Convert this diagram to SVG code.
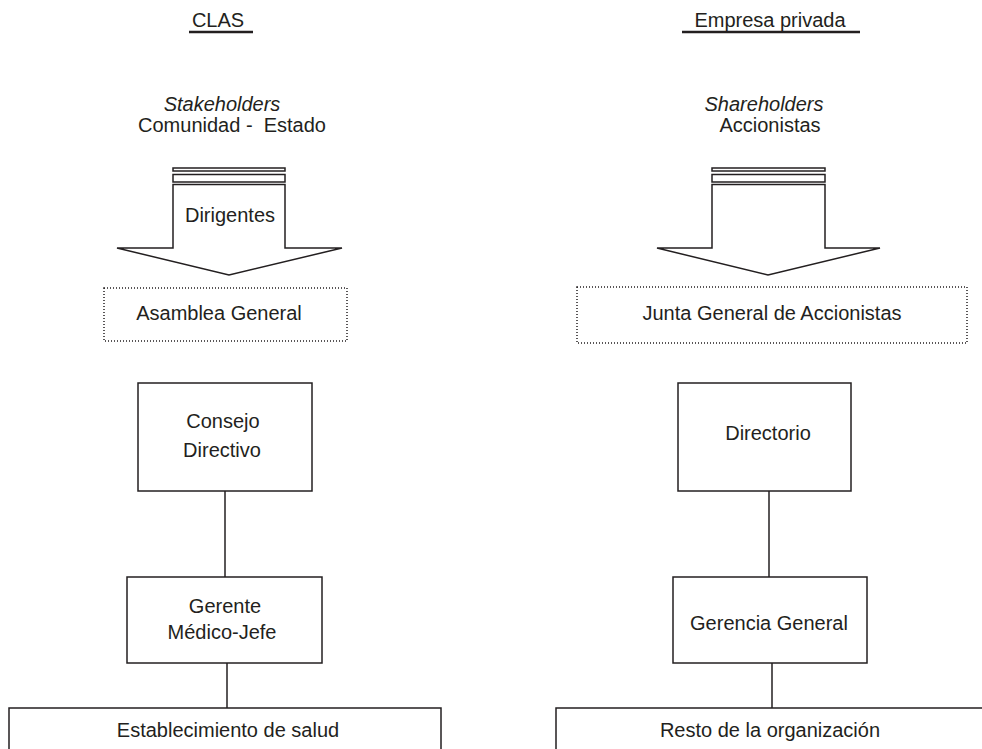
<svg xmlns="http://www.w3.org/2000/svg" width="982" height="749" viewBox="0 0 982 749">
<style>
text{font-family:"Liberation Sans",Arial,sans-serif;font-size:20px;fill:#231f20;text-anchor:middle}
.it{font-style:italic}
.box{fill:none;stroke:#231f20;stroke-width:1.5}
.dot{fill:none;stroke:#231f20;stroke-width:1.5;stroke-dasharray:1 2}
.ul{stroke:#231f20;stroke-width:2.5}
.conn{stroke:#231f20;stroke-width:1.5;fill:none}
</style>
<rect width="982" height="749" fill="#fff"/>
<g id="header-clas">
<text x="218" y="27">CLAS</text>
<line class="ul" x1="189" y1="32" x2="253" y2="32"/>
</g>
<g id="header-empresa">
<text x="770" y="27">Empresa privada</text>
<line class="ul" x1="682" y1="32" x2="860" y2="32"/>
</g>
<g id="stakeholders">
<text class="it" x="222" y="111">Stakeholders</text>
<text x="232" y="132" xml:space="preserve">Comunidad -  Estado</text>
</g>
<g id="shareholders">
<text class="it" x="764" y="111">Shareholders</text>
<text x="770" y="132">Accionistas</text>
</g>
<g id="arrow-dirigentes">
<rect class="box" x="173" y="168" width="112" height="3"/>
<rect class="box" x="173" y="174.5" width="112" height="7.5"/>
<polygon class="box" points="173,184.5 173,248 117,248 229,275 342,248 285,248 285,184.5"/>
<text x="230" y="222">Dirigentes</text>
</g>
<g id="arrow-accionistas">
<rect class="box" x="712" y="168" width="113" height="3"/>
<rect class="box" x="712" y="174.5" width="113" height="7.5"/>
<polygon class="box" points="712,184.5 712,248 657,248 768,275 880,248 825,248 825,184.5"/>
</g>
<g id="asamblea">
<rect class="dot" x="104" y="288" width="243" height="53"/>
<text x="219" y="320">Asamblea General</text>
</g>
<g id="junta">
<rect class="dot" x="577" y="287" width="390" height="56"/>
<text x="772" y="320">Junta General de Accionistas</text>
</g>
<g id="consejo">
<rect class="box" x="138" y="383" width="174" height="108"/>
<text x="223" y="428">Consejo</text>
<text x="222" y="457">Directivo</text>
</g>
<g id="directorio">
<rect class="box" x="678" y="383" width="173" height="108"/>
<text x="768" y="440">Directorio</text>
</g>
<g id="gerente">
<rect class="box" x="127" y="577" width="195" height="86"/>
<text x="225" y="613">Gerente</text>
<text x="222" y="639">Médico-Jefe</text>
</g>
<g id="gerencia">
<rect class="box" x="673" y="577" width="194" height="86"/>
<text x="769" y="630">Gerencia General</text>
</g>
<g id="establecimiento">
<rect class="box" x="9" y="708" width="432" height="60"/>
<text x="228" y="737">Establecimiento de salud</text>
</g>
<g id="resto">
<rect class="box" x="556" y="708" width="440" height="60"/>
<text x="770" y="737">Resto de la organización</text>
</g>
<g id="connectors">
<line class="conn" x1="225" y1="491" x2="225" y2="577"/>
<line class="conn" x1="227" y1="663" x2="227" y2="708"/>
<line class="conn" x1="769" y1="491" x2="769" y2="577"/>
<line class="conn" x1="772" y1="663" x2="772" y2="708"/>
</g>
</svg>
